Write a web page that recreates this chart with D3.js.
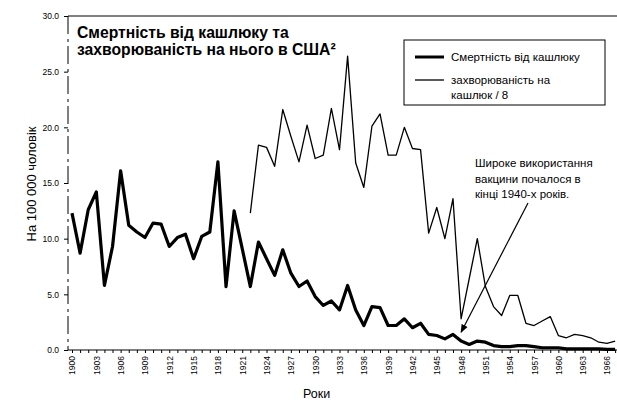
<!DOCTYPE html>
<html>
<head>
<meta charset="utf-8">
<script src="https://cdn.jsdelivr.net/npm/d3@7"></script>
<style>
  body { margin: 0; background: #fff; }
  svg { font-family: "Liberation Sans", Arial, sans-serif; }
</style>
</head>
<body>
<div id="chart"></div>
<script>
// смертність від кашлюку, на 100 000 (1900-1967)
var deathYears = d3.range(1900, 1968);
var deaths = [12.3, 8.7, 12.6, 14.2, 5.8, 9.3, 16.1, 11.2, 10.6, 10.1,
    11.4, 11.3, 9.3, 10.1, 10.4, 8.2, 10.2, 10.6, 16.9, 5.7,
    12.5, 9.1, 5.7, 9.7, 8.2, 6.7, 9.0, 6.9, 5.7, 6.2,
    4.8, 4.0, 4.4, 3.6, 5.8, 3.6, 2.2, 3.9, 3.8, 2.2,
    2.2, 2.8, 2.0, 2.4, 1.4, 1.3, 1.0, 1.4, 0.8, 0.5,
    0.8, 0.7, 0.4, 0.3, 0.3, 0.4, 0.4, 0.3, 0.2, 0.2,
    0.2, 0.1, 0.1, 0.1, 0.1, 0.1, 0.05, 0.05];

// захворюваність / 8 (1922-1967)
var caseYears = d3.range(1922, 1968);
var cases = [12.3, 18.4, 18.2, 16.5, 21.6, 19.2, 16.9, 20.2,
    17.2, 17.5, 21.7, 18.0, 26.4, 16.8, 14.6, 20.1, 21.2, 17.5,
    17.5, 20.0, 18.1, 18.0, 10.5, 12.8, 10.0, 13.6, 2.8, 6.4,
    10.0, 5.7, 3.9, 3.1, 4.9, 4.9, 2.4, 2.2, 2.6, 3.0,
    1.3, 1.1, 1.4, 1.3, 1.1, 0.7, 0.6, 0.8];

var yTicks = [0, 5, 10, 15, 20, 25, 30];
var yearLabels = d3.range(1900, 1968, 3);

var titleLines = ["Смертність від кашлюку та", "захворюваність на нього в США²"];
var legendLabels = [["Смертність від кашлюку"], ["захворюваність на", "кашлюк / 8"]];
var noteLines = ["Широке використання", "вакцини почалося в", "кінці 1940-х років."];

var width = 617, height = 401;
var svg = d3.select('#chart').append('svg')
    .attr('width', width)
    .attr('height', height);

var x = d3.scaleLinear().domain([1900, 1966]).range([72, 607]);
var y = d3.scaleLinear().domain([0, 30]).range([350, 16]);

// рамка зверху
svg.append('line')
    .attr('x1', 68).attr('x2', width)
    .attr('y1', y(30)).attr('y2', y(30))
    .attr('stroke', '#000').attr('stroke-width', 1);

// вісь Y
var yAxis = svg.append('g')
    .attr('transform', 'translate(68,0)')
    .call(d3.axisLeft(y).tickValues(yTicks).tickSize(4).tickFormat(d3.format('.1f')));
yAxis.select('.domain').remove();
yAxis.selectAll('text').attr('font-size', 8.5).attr('dx', -2);
svg.append('line')
    .attr('x1', 68).attr('x2', 68)
    .attr('y1', y(30)).attr('y2', y(0))
    .attr('stroke', '#000').attr('stroke-width', 1)
    .attr('stroke-dasharray', '18,5,3,4');

// вісь X
var xAxis = svg.append('g')
    .attr('transform', 'translate(0,' + y(0) + ')')
    .call(d3.axisBottom(x).tickValues(deathYears).tickSize(3)
        .tickFormat(function(d) { return yearLabels.indexOf(d) >= 0 ? d : ''; }));
xAxis.select('.domain').remove();
xAxis.selectAll('text')
    .attr('font-size', 8.5)
    .attr('text-anchor', 'end')
    .attr('transform', 'rotate(-90)')
    .attr('x', -6).attr('y', 0).attr('dy', '0.35em');
svg.append('line')
    .attr('x1', 68).attr('x2', width)
    .attr('y1', y(0)).attr('y2', y(0))
    .attr('stroke', '#000').attr('stroke-width', 1);

// лінії
var line = d3.line()
    .x(function(d) { return x(d[0]); })
    .y(function(d) { return y(d[1]); });

svg.append('path')
    .datum(d3.zip(caseYears, cases))
    .attr('d', line)
    .attr('fill', 'none')
    .attr('stroke', '#000')
    .attr('stroke-width', 1.3)
    .attr('stroke-linejoin', 'round');

svg.append('path')
    .datum(d3.zip(deathYears, deaths))
    .attr('d', line)
    .attr('fill', 'none')
    .attr('stroke', '#000')
    .attr('stroke-width', 3.2)
    .attr('stroke-linejoin', 'round');

// заголовок
svg.append('text')
    .attr('x', 77).attr('y', 38)
    .attr('font-size', 15.7).attr('font-weight', 'bold')
    .selectAll('tspan').data(titleLines).enter().append('tspan')
    .attr('x', 77)
    .attr('dy', function(d, i) { return i ? 17 : 0; })
    .text(function(d) { return d; });

// легенда
var legend = svg.append('g');
legend.append('rect')
    .attr('x', 404).attr('y', 40).attr('width', 201).attr('height', 65)
    .attr('fill', '#fff').attr('stroke', '#000').attr('stroke-width', 1);
var legendY = [57, 80];
var legendW = [3, 1.3];
legendLabels.forEach(function(lines, i) {
    legend.append('line')
        .attr('x1', 415).attr('x2', 444)
        .attr('y1', legendY[i]).attr('y2', legendY[i])
        .attr('stroke', '#000').attr('stroke-width', legendW[i]);
    legend.append('text')
        .attr('font-size', 11.5)
        .selectAll('tspan').data(lines).enter().append('tspan')
        .attr('x', 451)
        .attr('y', function(d, j) { return legendY[i] + 4 + j * 15; })
        .text(function(d) { return d; });
});

// примітка зі стрілкою
svg.append('text')
    .attr('font-size', 11.5)
    .selectAll('tspan').data(noteLines).enter().append('tspan')
    .attr('x', 475)
    .attr('y', function(d, i) { return 167 + i * 15.5; })
    .text(function(d) { return d; });

svg.append('defs').append('marker')
    .attr('id', 'arrow')
    .attr('viewBox', '0 0 10 10')
    .attr('refX', 9).attr('refY', 5)
    .attr('markerWidth', 7).attr('markerHeight', 7)
    .attr('orient', 'auto')
    .append('path')
    .attr('d', 'M0,1 L10,5 L0,9 z')
    .attr('fill', '#000');

svg.append('line')
    .attr('x1', 528).attr('y1', 203)
    .attr('x2', x(1948)).attr('y2', y(1.6))
    .attr('stroke', '#000').attr('stroke-width', 1.2)
    .attr('marker-end', 'url(#arrow)');

// підписи осей
svg.append('text')
    .attr('transform', 'translate(36,184) rotate(-90)')
    .attr('text-anchor', 'middle')
    .attr('font-size', 13)
    .text('На 100 000 чоловік');

svg.append('text')
    .attr('x', 303).attr('y', 398)
    .attr('font-size', 12.5)
    .text('Роки');
</script>
</body>
</html>
